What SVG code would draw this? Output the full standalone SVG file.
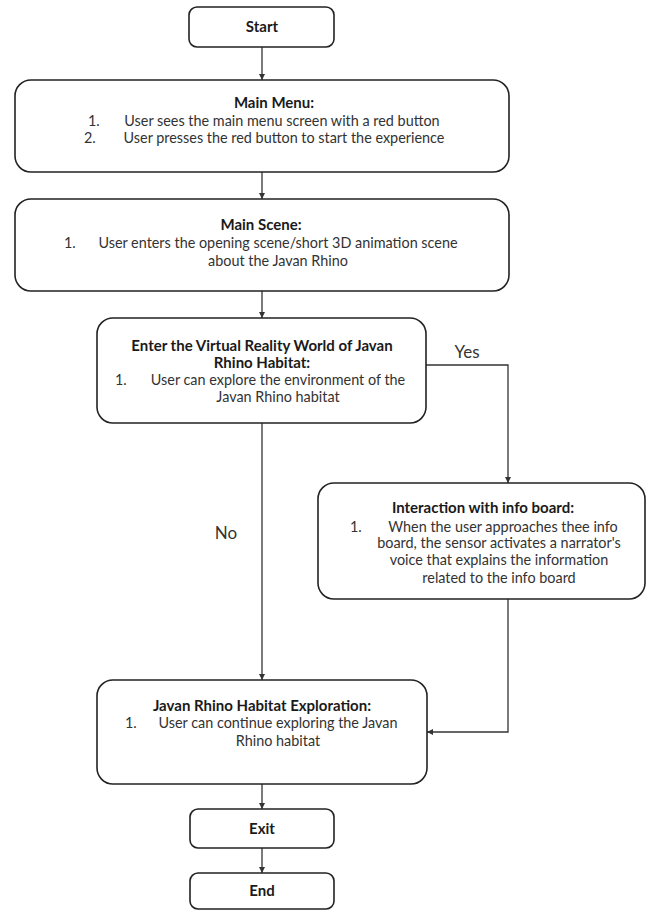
<svg xmlns="http://www.w3.org/2000/svg" width="649" height="910" viewBox="0 0 649 910">
<style>
.box{fill:#fff;stroke:#222;stroke-width:1.6}
.t{font-family:Lato,"Liberation Sans",sans-serif;font-size:14.4px;fill:#333;text-anchor:middle}
.b{font-weight:bold;fill:#1a1a1a;font-size:15px}
.n{text-anchor:start}
.lbl{font-family:Lato,"Liberation Sans",sans-serif;font-size:17px;fill:#333;text-anchor:middle}
.c{fill:none;stroke:#333;stroke-width:1.3}
</style>
<defs>
<marker id="ah" viewBox="0 0 10 10" refX="10" refY="5" markerWidth="6" markerHeight="6" orient="auto" markerUnits="userSpaceOnUse">
<path d="M0,0 L10,5 L0,10 z" fill="#333"/>
</marker>
</defs>
<rect width="649" height="910" fill="#fff"/>
<g id="connectors">
<line class="c" x1="262" y1="47" x2="262" y2="80" marker-end="url(#ah)"/>
<line class="c" x1="262" y1="172" x2="262" y2="199" marker-end="url(#ah)"/>
<line class="c" x1="262" y1="291" x2="262" y2="318" marker-end="url(#ah)"/>
<polyline class="c" points="426,365 508,365 508,483" marker-end="url(#ah)"/>
<line class="c" x1="262" y1="423" x2="262" y2="680" marker-end="url(#ah)"/>
<polyline class="c" points="508,599 508,732 427,732" marker-end="url(#ah)"/>
<line class="c" x1="262" y1="784" x2="262" y2="809" marker-end="url(#ah)"/>
<line class="c" x1="262" y1="848" x2="262" y2="873" marker-end="url(#ah)"/>
<text class="lbl" x="467" y="358">Yes</text>
<text class="lbl" x="226" y="539">No</text>
</g>
<g id="start">
<rect class="box" x="189" y="7" width="145" height="40" rx="8"/>
<text class="t b" x="262" y="32">Start</text>
</g>
<g id="main-menu">
<rect class="box" x="15" y="80" width="494" height="92" rx="16"/>
<text class="t b" x="274" y="108">Main Menu:</text>
<text class="t n" x="88" y="126">1.</text>
<text class="t" x="282" y="126">User sees the main menu screen with a red button</text>
<text class="t n" x="84" y="143">2.</text>
<text class="t" x="284" y="143">User presses the red button to start the experience</text>
</g>
<g id="main-scene">
<rect class="box" x="15" y="199" width="494" height="92" rx="16"/>
<text class="t b" x="261" y="230">Main Scene:</text>
<text class="t n" x="64" y="248">1.</text>
<text class="t" x="278" y="248">User enters the opening scene/short 3D animation scene</text>
<text class="t" x="278" y="266">about the Javan Rhino</text>
</g>
<g id="enter-vr">
<rect class="box" x="97" y="318" width="329" height="105" rx="16"/>
<text class="t b" x="262" y="351">Enter the Virtual Reality World of Javan</text>
<text class="t b" x="262" y="368">Rhino Habitat:</text>
<text class="t n" x="115" y="385">1.</text>
<text class="t" x="278" y="385">User can explore the environment of the</text>
<text class="t" x="278" y="402">Javan Rhino habitat</text>
</g>
<g id="interaction">
<rect class="box" x="318" y="483" width="327" height="116" rx="16"/>
<text class="t b" x="483" y="513">Interaction with info board:</text>
<text class="t n" x="350" y="532">1.</text>
<text class="t" x="503" y="532">When the user approaches thee info</text>
<text class="t" x="499" y="548">board, the sensor activates a narrator's</text>
<text class="t" x="499" y="565">voice that explains the information</text>
<text class="t" x="499" y="583">related to the info board</text>
</g>
<g id="exploration">
<rect class="box" x="97" y="680" width="330" height="104" rx="16"/>
<text class="t b" x="262" y="711">Javan Rhino Habitat Exploration:</text>
<text class="t n" x="125" y="728">1.</text>
<text class="t" x="278" y="728">User can continue exploring the Javan</text>
<text class="t" x="278" y="746">Rhino habitat</text>
</g>
<g id="exit">
<rect class="box" x="190" y="809" width="144" height="39" rx="8"/>
<text class="t b" x="262" y="834">Exit</text>
</g>
<g id="end">
<rect class="box" x="190" y="873" width="144" height="36" rx="8"/>
<text class="t b" x="262" y="896">End</text>
</g>
</svg>
